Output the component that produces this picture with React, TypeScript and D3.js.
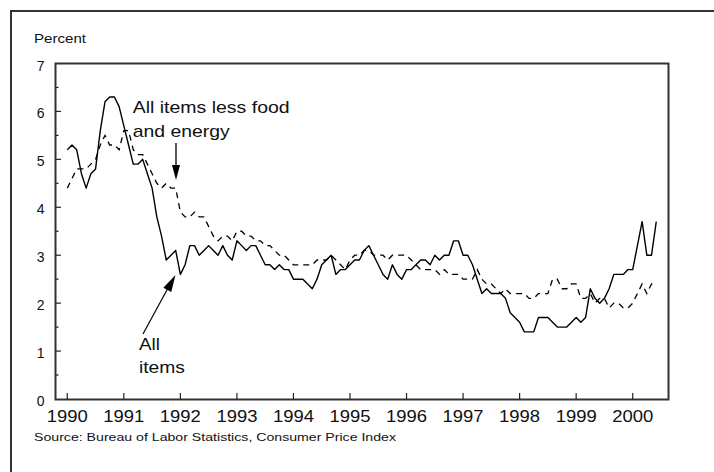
import React from 'react';
import * as d3 from 'd3';

// Monthly 12-month percent change, Jan 1990 - Jun 2000
const startYear = 1990;
const allItems = [
  5.2, 5.3, 5.2, 4.7, 4.4, 4.7, 4.8, 5.6, 6.2, 6.3, 6.3, 6.1,
  5.7, 5.3, 4.9, 4.9, 5.0, 4.7, 4.4, 3.8, 3.4, 2.9, 3.0, 3.1,
  2.6, 2.8, 3.2, 3.2, 3.0, 3.1, 3.2, 3.1, 3.0, 3.2, 3.0, 2.9,
  3.3, 3.2, 3.1, 3.2, 3.2, 3.0, 2.8, 2.8, 2.7, 2.8, 2.7, 2.7,
  2.5, 2.5, 2.5, 2.4, 2.3, 2.5, 2.8, 2.9, 3.0, 2.6, 2.7, 2.7,
  2.8, 2.9, 2.9, 3.1, 3.2, 3.0, 2.8, 2.6, 2.5, 2.8, 2.6, 2.5,
  2.7, 2.7, 2.8, 2.9, 2.9, 2.8, 3.0, 2.9, 3.0, 3.0, 3.3, 3.3,
  3.0, 3.0, 2.8, 2.5, 2.2, 2.3, 2.2, 2.2, 2.2, 2.1, 1.8, 1.7,
  1.6, 1.4, 1.4, 1.4, 1.7, 1.7, 1.7, 1.6, 1.5, 1.5, 1.5, 1.6,
  1.7, 1.6, 1.7, 2.3, 2.1, 2.0, 2.1, 2.3, 2.6, 2.6, 2.6, 2.7,
  2.7, 3.2, 3.7, 3.0, 3.0, 3.7,
];
const coreItems = [
  4.4, 4.6, 4.8, 4.8, 4.8, 4.9, 5.0, 5.3, 5.5, 5.3, 5.3, 5.2,
  5.6, 5.6, 5.2, 5.1, 5.1, 4.9, 4.7, 4.5, 4.4, 4.5, 4.4, 4.4,
  3.9, 3.8, 3.8, 3.9, 3.8, 3.8, 3.6, 3.4, 3.3, 3.4, 3.4, 3.3,
  3.5, 3.5, 3.4, 3.4, 3.3, 3.3, 3.2, 3.2, 3.1, 3.0, 3.0, 2.9,
  2.8, 2.8, 2.8, 2.8, 2.8, 2.9, 2.9, 2.9, 3.0, 2.9, 2.8, 2.7,
  2.9, 3.0, 3.0, 3.1, 3.1, 3.0, 3.0, 3.0, 2.9, 3.0, 3.0, 3.0,
  3.0, 2.9, 2.8, 2.7, 2.7, 2.7, 2.7, 2.6, 2.7, 2.6, 2.6, 2.6,
  2.5, 2.5, 2.5, 2.7, 2.5, 2.4, 2.4, 2.3, 2.2, 2.3, 2.2, 2.2,
  2.2, 2.2, 2.1, 2.1, 2.2, 2.2, 2.2, 2.5, 2.5, 2.3, 2.3, 2.4,
  2.4, 2.1, 2.1, 2.2, 2.0, 2.1, 2.1, 1.9, 2.0, 2.0, 1.9, 1.9,
  2.0, 2.2, 2.4, 2.2, 2.4, 2.4,
];
const yearTicks = [1990, 1991, 1992, 1993, 1994, 1995, 1996, 1997, 1998, 1999, 2000];
const yTicks = [0, 1, 2, 3, 4, 5, 6, 7];
const yMinorTicks = [0.5, 1.5, 2.5, 3.5, 4.5, 5.5, 6.5];

const FONT = '"Liberation Sans", Arial, sans-serif';

function arrowHead(x1: number, y1: number, x2: number, y2: number, len: number, w: number) {
  const dx = x2 - x1, dy = y2 - y1;
  const L = Math.sqrt(dx * dx + dy * dy);
  const ux = dx / L, uy = dy / L;
  const bx = x2 - ux * len, by = y2 - uy * len;
  const px = -uy * w / 2, py = ux * w / 2;
  return `${x2},${y2} ${bx + px},${by + py} ${bx - px},${by - py}`;
}

export default function App() {
  const W = 714, H = 472;
  const x = d3.scaleLinear().domain([1990, 2000]).range([67.3, 632.7]);
  const y = d3.scaleLinear().domain([0, 7]).range([399, 63.5]);
  const line = d3.line<number>()
    .x((_, i) => x(startYear + i / 12))
    .y((d) => y(d));

  const plotL = 55.5, plotR = 668.5, plotT = 63.5, plotB = 399.5;

  return (
    <svg width={W} height={H} style={{ position: 'absolute', left: 0, top: 0, background: '#fff' }}
      fontFamily={FONT}>
      <rect x={0} y={0} width={W} height={H} fill="#fff" />
      {/* outer frame */}
      <path d={`M11,${H + 5} L11,11 L${W + 5},11`} fill="none" stroke="#333" strokeWidth={2} />
      {/* plot frame */}
      <rect x={plotL} y={plotT} width={plotR - plotL} height={plotB - plotT} fill="none" stroke="#333" strokeWidth={2} />

      {/* y ticks */}
      {yTicks.filter(t => t > 0 && t < 7).map(t => (
        <line key={'yt' + t} x1={plotL} x2={plotL + 5.5} y1={y(t)} y2={y(t)} stroke="#222" strokeWidth={1.2} />
      ))}
      {yMinorTicks.map(t => (
        <line key={'ym' + t} x1={plotL} x2={plotL + 3} y1={y(t)} y2={y(t)} stroke="#222" strokeWidth={1.2} />
      ))}
      {yTicks.map(t => (
        <text key={'yl' + t} x={44.5} y={y(t) + 7} textAnchor="end" fontSize={14} fill="#111">{t}</text>
      ))}

      {/* x ticks */}
      {yearTicks.map(yr => (
        <line key={'xt' + yr} x1={x(yr)} x2={x(yr)} y1={plotB} y2={plotB - 6.5} stroke="#222" strokeWidth={1.2} />
      ))}
      {yearTicks.map(yr => (
        <text key={'xl' + yr} x={x(yr)} y={421.5} textAnchor="middle" fontSize={16} fill="#111"
          textLength={41} lengthAdjust="spacingAndGlyphs">{yr}</text>
      ))}

      <text x={34} y={43} fontSize={12} fill="#111" textLength={52} lengthAdjust="spacingAndGlyphs">Percent</text>
      <text x={34} y={441} fontSize={11} fill="#111" textLength={362} lengthAdjust="spacingAndGlyphs">
        Source: Bureau of Labor Statistics, Consumer Price Index
      </text>

      {/* series */}
      <path d={line(coreItems) || ''} fill="none" stroke="#000" strokeWidth={1.3} strokeDasharray="6,5" />
      <path d={line(allItems) || ''} fill="none" stroke="#000" strokeWidth={1.4} strokeLinejoin="round" />

      {/* annotations */}
      <text x={132.7} y={113.3} fontSize={17} fill="#111" textLength={157} lengthAdjust="spacingAndGlyphs">All items less food</text>
      <text x={132.7} y={136.5} fontSize={17} fill="#111" textLength={97} lengthAdjust="spacingAndGlyphs">and energy</text>
      <line x1={176} y1={143} x2={176} y2={168} stroke="#000" strokeWidth={1.3} />
      <polygon points={arrowHead(176, 143, 176, 180, 15, 8)} fill="#000" />

      <text x={139} y={350} fontSize={17} fill="#111" textLength={21} lengthAdjust="spacingAndGlyphs">All</text>
      <text x={139} y={373} fontSize={17} fill="#111" textLength={46} lengthAdjust="spacingAndGlyphs">items</text>
      <line x1={143} y1={334} x2={168} y2={288} stroke="#000" strokeWidth={1.2} />
      <polygon points={arrowHead(143, 334, 175.5, 275, 17, 9)} fill="#000" />
    </svg>
  );
}
